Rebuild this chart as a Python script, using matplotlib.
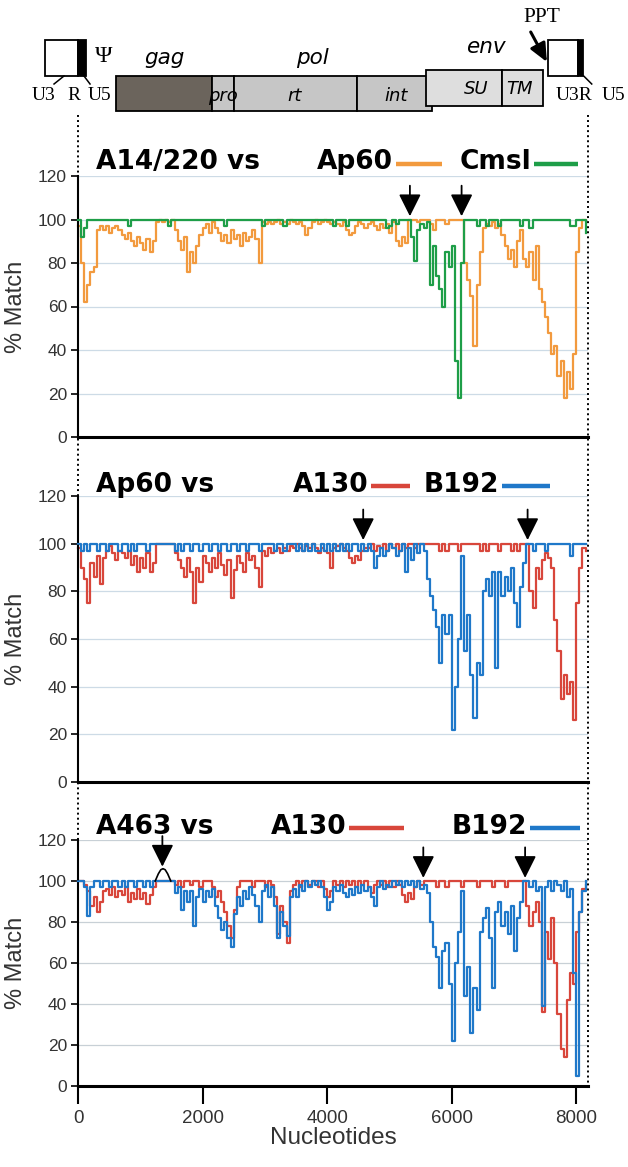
import numpy as np
import matplotlib
matplotlib.use('Agg')
import matplotlib.pyplot as plt
from matplotlib.patches import Rectangle

plt.rcParams['font.family'] = ['Liberation Sans', 'DejaVu Sans']

# window start positions along the genome (nt), one value every 50 nt
nt = np.arange(0, 8200, 50)

# % match, A14/220 vs Ap60 / Cmsl
ap60_a14 = [97, 80, 62, 70, 76, 78, 95, 97, 95, 97, 94, 96, 97, 95, 93, 91, 94, 90, 88, 92,
            89, 86, 91, 85, 90, 99, 100, 99, 100, 99, 100, 95, 90, 86, 92, 76, 85, 80, 88, 93,
            96, 98, 94, 99, 96, 94, 90, 93, 89, 95, 91, 93, 88, 94, 90, 92, 95, 91, 80, 99,
            98, 99, 98, 99, 100, 98, 99, 98, 100, 99, 98, 99, 97, 93, 96, 99, 100, 98, 99, 100,
            99, 98, 99, 98, 97, 99, 95, 93, 94, 97, 99, 98, 96, 98, 99, 97, 95, 98, 96, 98,
            94, 99, 90, 88, 92, 89, 100, 100, 100, 99, 100, 100, 100, 98, 95, 100, 100, 100, 98, 100,
            100, 100, 100, 100, 80, 72, 65, 42, 70, 85, 96, 98, 97, 99, 96, 98, 93, 88, 82, 86,
            78, 90, 95, 82, 78, 85, 72, 88, 68, 62, 55, 48, 38, 42, 28, 35, 18, 30, 22, 38,
            85, 96, 100, 100]
cmsl_a14 = [100, 92, 96, 100, 100, 100, 100, 100, 100, 100, 100, 100, 100, 100, 100, 100, 97, 100, 100, 100,
            100, 100, 100, 100, 100, 100, 100, 100, 100, 97, 100, 100, 100, 100, 100, 100, 100, 100, 100, 100,
            100, 100, 100, 100, 100, 100, 100, 97, 100, 100, 100, 100, 100, 100, 100, 100, 100, 100, 100, 97,
            100, 100, 100, 100, 100, 100, 97, 100, 100, 100, 100, 100, 100, 100, 100, 100, 100, 100, 100, 100,
            100, 100, 97, 100, 100, 100, 97, 100, 100, 100, 100, 100, 100, 100, 100, 100, 100, 100, 100, 96,
            97, 100, 98, 100, 100, 100, 100, 92, 81, 95, 98, 96, 99, 70, 88, 74, 68, 60, 85, 78,
            88, 35, 18, 80, 100, 100, 100, 100, 97, 100, 100, 97, 100, 100, 100, 97, 100, 100, 100, 100,
            100, 100, 97, 100, 100, 96, 100, 100, 100, 100, 100, 100, 100, 100, 100, 100, 100, 100, 97, 97,
            100, 100, 100, 94]

# % match, Ap60 vs A130 / B192
a130_ap60 = [98, 90, 85, 75, 92, 86, 95, 83, 94, 97, 99, 96, 93, 97, 96, 94, 97, 91, 95, 88,
             94, 90, 96, 88, 92, 100, 100, 100, 100, 100, 100, 96, 93, 90, 86, 94, 88, 75, 90, 84,
             95, 92, 88, 94, 90, 96, 91, 87, 93, 77, 89, 95, 92, 88, 96, 93, 95, 90, 82, 97,
             95, 98, 96, 97, 98, 96, 98, 97, 99, 98, 100, 98, 97, 99, 98, 100, 98, 96, 98, 97,
             96, 90, 98, 99, 100, 98, 97, 94, 92, 95, 93, 97, 98, 98, 100, 97, 99, 98, 100, 97,
             100, 98, 100, 97, 100, 98, 100, 100, 98, 100, 100, 100, 100, 100, 100, 100, 97, 100, 97, 100,
             100, 100, 97, 100, 100, 100, 100, 100, 100, 97, 100, 97, 100, 100, 100, 97, 100, 100, 100, 97,
             100, 97, 100, 100, 100, 80, 73, 90, 85, 93, 96, 94, 90, 68, 55, 35, 45, 37, 42, 26,
             75, 90, 98, 97]
b192_ap60 = [100, 97, 100, 97, 100, 100, 97, 100, 100, 97, 100, 100, 100, 97, 100, 100, 97, 100, 97, 100,
             100, 100, 97, 100, 100, 100, 100, 100, 100, 100, 100, 97, 100, 97, 100, 100, 97, 100, 100, 97,
             100, 100, 97, 100, 100, 97, 100, 100, 97, 100, 100, 97, 100, 100, 97, 100, 100, 100, 97, 100,
             100, 100, 100, 97, 100, 100, 97, 100, 100, 100, 97, 100, 97, 100, 97, 100, 97, 97, 100, 97,
             100, 97, 100, 97, 100, 97, 100, 97, 100, 100, 97, 100, 97, 100, 97, 90, 95, 98, 95, 97,
             100, 98, 95, 97, 100, 88, 98, 93, 100, 96, 100, 97, 85, 78, 72, 65, 50, 70, 62, 70,
             22, 40, 60, 95, 55, 70, 45, 27, 50, 45, 80, 85, 78, 88, 48, 88, 78, 86, 80, 90,
             75, 65, 82, 92, 100, 100, 97, 100, 100, 100, 97, 100, 100, 100, 100, 100, 100, 100, 95, 100,
             100, 100, 100, 100]

# % match, A463 vs A130 / B192
a130_a463 = [100, 100, 98, 95, 88, 92, 85, 90, 95, 96, 93, 97, 92, 95, 93, 97, 90, 94, 91, 96,
             91, 94, 89, 93, 97, 100, 100, 100, 100, 100, 100, 98, 100, 97, 100, 100, 98, 100, 100, 97,
             100, 100, 100, 97, 92, 95, 90, 85, 78, 72, 86, 97, 100, 100, 100, 100, 97, 100, 100, 100,
             97, 100, 98, 92, 74, 88, 80, 70, 95, 98, 100, 97, 100, 100, 98, 100, 100, 97, 100, 96,
             92, 95, 100, 98, 100, 97, 100, 98, 100, 97, 100, 98, 100, 97, 94, 98, 100, 98, 100, 97,
             100, 97, 100, 98, 93, 90, 94, 91, 97, 100, 98, 100, 100, 100, 100, 97, 100, 100, 97, 100,
             100, 100, 100, 97, 100, 100, 100, 100, 97, 100, 100, 100, 100, 97, 100, 100, 100, 97, 100, 100,
             100, 100, 100, 100, 88, 78, 85, 90, 80, 36, 75, 62, 82, 60, 35, 18, 14, 42, 55, 50,
             75, 85, 96, 98]
b192_a463 = [100, 100, 97, 83, 97, 100, 100, 97, 100, 100, 97, 100, 100, 97, 100, 97, 100, 100, 97, 100,
             100, 97, 100, 97, 100, 100, 100, 100, 100, 100, 100, 94, 97, 86, 95, 90, 95, 78, 92, 96,
             90, 95, 92, 96, 88, 82, 76, 80, 72, 68, 84, 92, 88, 95, 91, 97, 93, 88, 80, 95,
             98, 92, 97, 88, 72, 85, 78, 73, 92, 96, 92, 98, 95, 100, 97, 100, 98, 100, 97, 92,
             86, 90, 97, 95, 98, 94, 92, 96, 93, 97, 94, 98, 95, 97, 92, 88, 97, 100, 96, 98,
             97, 100, 98, 100, 97, 100, 98, 100, 97, 100, 96, 98, 94, 80, 68, 63, 48, 66, 70, 50,
             22, 60, 75, 95, 44, 58, 26, 48, 37, 75, 82, 87, 72, 48, 85, 90, 78, 85, 74, 88,
             66, 82, 90, 100, 100, 97, 100, 95, 97, 39, 97, 100, 95, 100, 98, 95, 100, 92, 96, 55,
             5, 85, 95, 100]

titles = ['A14/220 vs', 'Ap60 vs', 'A463 vs']
series_names = [('Ap60', 'Cmsl'), ('A130', 'B192'), ('A130', 'B192')]
series_data = [(ap60_a14, cmsl_a14), (a130_ap60, b192_ap60), (a130_a463, b192_a463)]
series_colors = [('#F29A3E', '#1E9E48'), ('#D8463B', '#1F78C9'), ('#D8463B', '#1F78C9')]
arrow_pos = [[5330, 6160], [4580, 7220], [1355, 5545, 7180]]
yticks = [0, 20, 40, 60, 80, 100, 120]
xticks = [0, 2000, 4000, 6000, 8000]

# genome map (nt)
ltr5 = (-530, 0, 128)
ltr3 = (7545, 8025, 8105)
gag = (610, 2150)
pol_parts = [('pro', 2150, 2504), ('rt', 2504, 4478), ('int', 4478, 5682)]
env_parts = [('SU', 5585, 6805), ('TM', 6805, 7463)]

XMAX = 8190
FW, FH = 628, 1167
L, W = 78 / FW, 510 / FW
# pixel rows of the 0 and 120 lines of each panel, title height in data units,
# legend line spans
rows = [(437, 176), (782, 496), (1086, 840)]
title_y = [126.5, 124.8, 126.5]
leg_lines = [[(5104, 5842), (7319, 8025)],
             [(4702, 5328), (6805, 7575)],
             [(4349, 5232), (7255, 8057)]]
grid_cols = ['#cddbe6', '#cddbe6', '#c8d0d6']

fig = plt.figure(figsize=(FW / 100, FH / 100), dpi=100)

for i in range(3):
    y0, y120 = rows[i]
    ax = fig.add_axes([L, 1 - y0 / FH, W, (y0 - y120) / FH])
    ax.patch.set_alpha(0)
    ax.set_xlim(0, XMAX)
    ax.set_ylim(0, 120)
    for v in yticks[1:]:
        ax.axhline(v, color=grid_cols[i], lw=0.9, zorder=0)
    s1, s2 = series_data[i]
    c1, c2 = series_colors[i]
    ax.step(nt, s1, where='post', color=c1, lw=1.6, zorder=2, clip_on=False)
    ax.step(nt, s2, where='post', color=c2, lw=1.6, zorder=3, clip_on=False)

    for sp in ['top', 'right']:
        ax.spines[sp].set_visible(False)
    ax.spines['left'].set_bounds(0, 120)
    ax.spines['left'].set_linewidth(1.5)
    ax.spines['bottom'].set_linewidth(2.2)
    ax.set_yticks(yticks)
    ax.tick_params(axis='y', length=5, width=1.2, labelsize=12.5,
                   labelcolor='#333333', pad=3)
    ax.set_ylabel('% Match', fontsize=17, color='#333333')
    ax.yaxis.set_label_coords(-0.1, 0.5)
    if i < 2:
        ax.set_xticks([])
    else:
        ax.set_xticks(xticks)
        ax.tick_params(axis='x', length=13, width=1.5, labelsize=13.5,
                       labelcolor='#333333', pad=4)
        ax.set_xlabel('Nucleotides', fontsize=17.5, color='#333333', labelpad=0)

    ty = title_y[i]
    ax.text(290, ty, titles[i], fontsize=19, fontweight='bold',
            family='DejaVu Sans', ha='left', va='center', clip_on=False)
    for (x1, x2), name, col in zip(leg_lines[i], series_names[i], (c1, c2)):
        ax.text(x1 - 40, ty, name, fontsize=19, fontweight='bold',
                family='DejaVu Sans', ha='right', va='center', clip_on=False)
        ax.plot([x1, x2], [ty - 0.8, ty - 0.8], color=col, lw=3.2,
                solid_capstyle='butt', clip_on=False)

    for k, xa in enumerate(arrow_pos[i]):
        tip = 101.5
        if i == 2 and k == 0:
            tip = 107
            ax.plot([1240, 1290, 1330, 1365, 1400, 1440, 1490],
                    [100, 103.5, 105.5, 106, 105.5, 103.5, 100],
                    color='k', lw=1.2, zorder=4, clip_on=False)
        ax.annotate('', xy=(xa, tip), xytext=(0, 22), textcoords='offset points',
                    arrowprops=dict(arrowstyle='-|>,head_length=0.68,head_width=0.34',
                                    mutation_scale=20, color='k', lw=1.3,
                                    shrinkA=0, shrinkB=0),
                    annotation_clip=False, zorder=5)

# overlay: genome map and dotted guide lines (y in pixel rows)
top = fig.add_axes([L, 0, W, 1])
top.set_xlim(0, XMAX)
top.set_ylim(FH, 0)
top.axis('off')
top.patch.set_visible(False)

top.vlines([0, XMAX], 115, 1086, colors='k', linestyles=(0, (1, 1.6)),
           lw=1.4, clip_on=False)

def box(x1, x2, ya, yb, fc, lw=1.3):
    top.add_patch(Rectangle((x1, ya), x2 - x1, yb - ya, facecolor=fc,
                            edgecolor='k', lw=lw, clip_on=False))

for a, b, c in (ltr5, ltr3):
    box(a, b, 40, 76, 'white')
    box(b, c, 40, 76, 'black')
box(gag[0], gag[1], 76, 111, '#6b645c')
for name, a, b in pol_parts:
    box(a, b, 76, 111, '#c6c6c6')
for name, a, b in env_parts:
    box(a, b, 70, 106, '#dedede')

ital = dict(family='DejaVu Sans', style='italic', ha='center', va='center')
top.text(1396, 58, 'gag', fontsize=15.5, **ital)
top.text(3772, 58, 'pol', fontsize=15.5, **ital)
top.text(6548, 47, 'env', fontsize=15.5, **ital)
top.text(2327, 96, 'pro', fontsize=13, **ital)
top.text(3483, 96, 'rt', fontsize=13, **ital)
top.text(5104, 96, 'int', fontsize=13, **ital)
top.text(6388, 89, 'SU', fontsize=13, **ital)
top.text(7094, 89, 'TM', fontsize=13, **ital)

serif = dict(family=['Liberation Serif', 'DejaVu Serif'], ha='center', va='center')
top.text(420, 56, '\u03a8', fontsize=17, **serif)
top.text(-560, 96, 'U3', fontsize=14, **serif)
top.text(-70, 96, 'R', fontsize=14, **serif)
top.text(350, 96, 'U5', fontsize=14, **serif)
top.text(7960, 96, 'U3R', fontsize=14, **serif)
top.text(8600, 96, 'U5', fontsize=14, **serif)
top.text(7450, 18, 'PPT', fontsize=15.5, **serif)

for xs, ys in [([-385, -225], [84, 76]), ([193, 96], [84, 76]), ([8250, 8121], [84, 76])]:
    top.plot(xs, ys, color='k', lw=1.1, clip_on=False)

top.annotate('', xy=(7530, 62), xytext=(7270, 32),
             arrowprops=dict(arrowstyle='-|>,head_length=1.0,head_width=0.45',
                             mutation_scale=11, color='k', lw=2.2,
                             shrinkA=0, shrinkB=0), annotation_clip=False)

fig.savefig('out.png', dpi=100)
